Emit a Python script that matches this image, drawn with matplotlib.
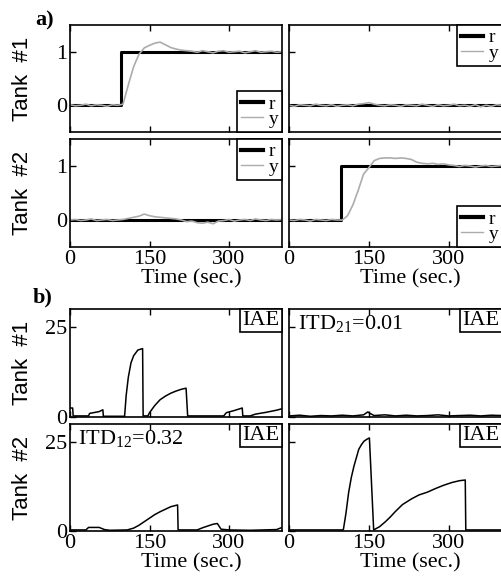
import numpy as np
import matplotlib
matplotlib.use("Agg")
import matplotlib.pyplot as plt
from matplotlib.lines import Line2D
from matplotlib.offsetbox import AnchoredText

plt.rcParams['font.family'] = ['Liberation Serif', 'DejaVu Serif']
plt.rcParams['mathtext.fontset'] = 'custom'
plt.rcParams['mathtext.rm'] = 'Liberation Serif'
plt.rcParams['font.size'] = 16

# a) responses, sampled every 10 s
t_a = np.arange(0, 401, 10)
r_step_t = [0, 97, 97, 400]
r_step = [0, 0, 1, 1]
r_zero_t = [0, 400]
r_zero = [0, 0]

# tank 1 output, step on tank 1
y_11 = [0.01, -0.01, 0.0, 0.02, -0.01, 0.01, 0.0, -0.02, 0.01, 0.0,
        0.02, 0.38, 0.72, 0.95, 1.07, 1.12, 1.16, 1.18, 1.13, 1.08,
        1.05, 1.03, 1.02, 1.01, 0.99, 1.02, 1.0, 0.98, 1.01, 1.02,
        0.99, 1.0, 1.01, 0.98, 1.0, 1.02, 0.99, 1.0, 1.01, 0.99, 1.0]
# tank 1 output, step on tank 2
y_12 = [0.0, -0.02, 0.01, 0.0, -0.01, 0.02, 0.0, -0.01, 0.01, -0.02,
        0.0, 0.01, -0.01, 0.02, 0.03, 0.05, 0.02, 0.0, -0.01, 0.01,
        0.0, -0.02, 0.01, 0.0, -0.01, 0.02, 0.0, -0.02, 0.01, -0.01,
        0.0, 0.02, -0.01, 0.0, -0.02, 0.01, -0.03, 0.0, -0.02, 0.01, 0.0]
# tank 2 output, step on tank 1
y_21 = [0.0, 0.01, -0.01, 0.0, 0.02, -0.01, 0.0, 0.01, -0.01, 0.0,
        0.01, 0.03, 0.05, 0.07, 0.11, 0.08, 0.06, 0.05, 0.04, 0.03,
        0.02, 0.0, -0.03, -0.02, -0.05, -0.06, -0.04, -0.07, -0.02, -0.01,
        0.01, -0.02, 0.0, 0.01, -0.01, 0.02, 0.0, -0.01, 0.01, 0.0, 0.01]
# tank 2 output, step on tank 2
y_22 = [0.0, -0.01, 0.01, 0.0, -0.02, 0.01, 0.0, -0.01, 0.01, 0.0,
        0.0, 0.08, 0.28, 0.55, 0.85, 0.97, 1.1, 1.14, 1.15, 1.15,
        1.14, 1.15, 1.14, 1.12, 1.07, 1.05, 1.04, 1.05, 1.03, 1.04,
        1.02, 1.01, 0.99, 1.01, 1.0, 0.98, 1.0, 1.01, 0.99, 1.0, 1.01]

# b) IAE traces
iae_11_t = [0, 5, 6, 35, 37, 55, 62, 63, 103, 106, 110, 115, 120, 128, 137, 138,
            147, 150, 160, 170, 180, 190, 200, 210, 219, 222, 290, 295, 310, 325,
            326, 340, 350, 370, 390, 400]
iae_11 = [2.5, 2.5, 0.3, 0.3, 1.0, 1.5, 2.0, 0.2, 0.2, 6, 11, 15, 17, 18.6, 19, 0.3,
          0.3, 1.2, 3.2, 4.8, 5.8, 6.6, 7.2, 7.7, 8.0, 0.3, 0.3, 1.2, 1.8, 2.5,
          0.3, 0.3, 0.8, 1.3, 1.9, 2.3]
iae_12_t = [0, 20, 40, 60, 80, 100, 120, 140, 148, 152, 160, 180, 200, 220, 240,
            260, 280, 300, 320, 340, 360, 380, 400]
iae_12 = [0.3, 0.5, 0.2, 0.4, 0.3, 0.5, 0.3, 0.6, 1.4, 1.0, 0.4, 0.6, 0.3, 0.5, 0.3,
          0.4, 0.6, 0.3, 0.4, 0.5, 0.3, 0.5, 0.4]
iae_21_t = [0, 30, 35, 55, 65, 75, 108, 120, 130, 140, 150, 160, 170, 180, 190,
            203, 204, 240, 250, 260, 270, 278, 285, 300, 340, 390, 400]
iae_21 = [0.3, 0.3, 1.0, 1.0, 0.4, 0.2, 0.3, 0.8, 1.6, 2.6, 3.6, 4.6, 5.4, 6.1, 6.8,
          7.3, 0.3, 0.3, 0.9, 1.4, 1.9, 2.1, 0.5, 0.3, 0.2, 0.4, 1.0]
iae_22_t = [0, 50, 90, 102, 107, 112, 117, 122, 127, 131, 136, 141, 146, 151, 159,
            170, 181, 190, 200, 213, 230, 244, 260, 275, 290, 306, 320, 331, 332, 400]
iae_22 = [0.3, 0.3, 0.3, 0.3, 5, 10.8, 15, 18.2, 20.8, 22.9, 24.2, 25.2, 25.7, 26.1, 0.3,
          1.2, 2.6, 3.9, 5.5, 7.4, 9.0, 10.1, 10.9, 11.9, 12.8, 13.6, 14.1, 14.3, 0.3, 0.3]

itd_labels = [r'ITD$_{12}$=0.32', r'ITD$_{21}$=0.01']
x_ticks = [0, 150, 300]
gray = '#acacac'

W, H = 501, 577
fig = plt.figure(figsize=(W / 100, H / 100), dpi=100)


def make_ax(x0, x1, y0, y1):
    ax = fig.add_axes([x0 / W, 1 - y1 / H, (x1 - x0) / W, (y1 - y0) / H])
    for s in ax.spines.values():
        s.set_linewidth(1.2)
    ax.tick_params(direction='in', top=True, right=False, length=4, width=1,
                   pad=2)
    ax.set_xlim(0, 400)
    ax.set_xticks(x_ticks)
    return ax


def label_axes(ax, i, j):
    if j == 0:
        ax.set_ylabel('Tank  #%d' % (i + 1), family='Liberation Sans')
        ax.yaxis.set_label_coords(-0.175, 0.5)
    else:
        ax.set_yticklabels([])
    if i == 1:
        ax.set_xlabel('Time (sec.)')
        ax.xaxis.set_label_coords(0.57, -0.21)
    else:
        ax.set_xticklabels([])


cols = [(70, 282), (289, 502)]
rows_a = [(25, 132), (139, 247)]
rows_b = [(309, 417), (424, 531)]

ys = [[y_11, y_12], [y_21, y_22]]
iae_t = [[iae_11_t, iae_12_t], [iae_21_t, iae_22_t]]
iae = [[iae_11, iae_12], [iae_21, iae_22]]
leg_loc = [['lower right', 'upper right'], ['upper right', 'lower right']]

for i, (ya, yb) in enumerate(rows_a):
    for j, (xa, xb) in enumerate(cols):
        ax = make_ax(xa, xb, ya, yb)
        if i == j:
            ax.plot(r_step_t, r_step, color='black', lw=2.2)
        else:
            ax.plot(r_zero_t, r_zero, color='black', lw=2.2)
        ax.plot(t_a, ys[i][j], color=gray, lw=1.2)
        ax.set_ylim(-0.5, 1.5)
        ax.set_yticks([0, 1])
        leg = ax.legend([Line2D([], [], color='black', lw=3),
                         Line2D([], [], color=gray, lw=1)], ['r', 'y'],
                        loc=leg_loc[i][j], borderaxespad=0, fancybox=False,
                        edgecolor='black', framealpha=1, fontsize=14,
                        handlelength=1.1, handletextpad=0.3,
                        labelspacing=-0.12, borderpad=0.2)
        leg.get_frame().set_linewidth(1.2)
        label_axes(ax, i, j)

for i, (ya, yb) in enumerate(rows_b):
    for j, (xa, xb) in enumerate(cols):
        ax = make_ax(xa, xb, ya, yb)
        ax.plot(iae_t[i][j], iae[i][j], color='black', lw=1.1)
        ax.set_ylim(0, 30)
        ax.set_yticks([0, 25])
        at = AnchoredText('IAE', loc='upper right', frameon=True, borderpad=0,
                          pad=0.1, prop=dict(size=16))
        at.patch.set_linewidth(1.2)
        ax.add_artist(at)
        if i != j:
            ax.text(0.04, 0.86, itd_labels[j], transform=ax.transAxes,
                    va='center', ha='left')
        label_axes(ax, i, j)

fig.text(35 / W, 1 - 20 / H, 'a)', weight='bold', va='center', ha='left')
fig.text(33 / W, 1 - 297 / H, 'b)', weight='bold', va='center', ha='left')

fig.savefig('out.png', dpi=100)
